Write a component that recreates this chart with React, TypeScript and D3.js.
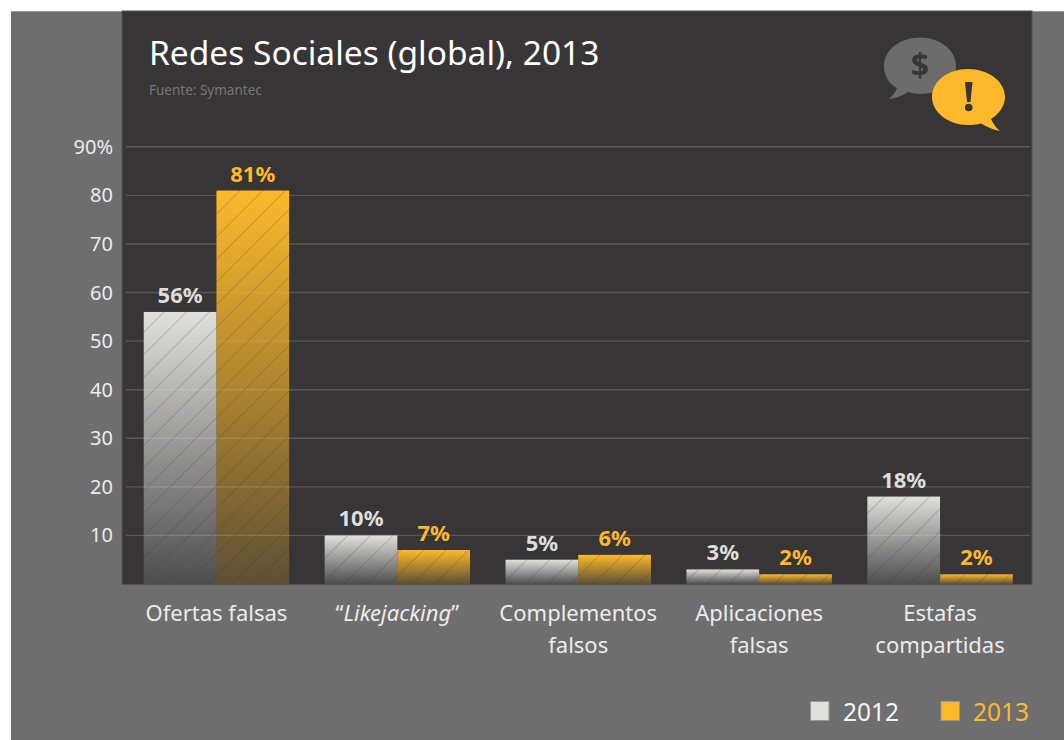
import React from 'react';
import * as d3 from 'd3';

const categories = ['Ofertas falsas', 'Likejacking', 'Complementos falsos', 'Aplicaciones falsas', 'Estafas compartidas'];
const categoryLines = [['Ofertas falsas'], ['“', 'Likejacking', '”'], ['Complementos', 'falsos'], ['Aplicaciones', 'falsas'], ['Estafas', 'compartidas']];
const series2012 = [56, 10, 5, 3, 18];
const series2013 = [81, 7, 6, 2, 2];
const yTicks = [10, 20, 30, 40, 50, 60, 70, 80, 90];
const seriesYears = ['2012', '2013'];

const FONT = '"Noto Sans", sans-serif';
const GREY = '#e0e0dd';
const AMBER = '#fdb92b';

const y = d3.scaleLinear().domain([0, 90]).range([584, 146.8]);
const x = d3.scaleBand<string>().domain(categories).range([126, 1030.5]).paddingInner(0.196).paddingOuter(0.098);
const inner = d3.scaleBand<string>().domain(seriesYears).range([0, x.bandwidth()]);

function Bars({ values, year, color, fill }: { values: number[]; year: string; color: string; fill: string }) {
  return (
    <g>
      {values.map((v, i) => {
        const bx = (x(categories[i]) as number) + (inner(year) as number);
        const top = y(v);
        const h = y(0) - top;
        return (
          <g key={i}>
            <rect x={bx} y={top} width={inner.bandwidth()} height={h} fill={`url(#${fill})`} />
            <rect x={bx} y={top} width={inner.bandwidth()} height={h} fill="url(#hatch)" />
            <text x={bx + inner.bandwidth() / 2} y={top - 9} textAnchor="middle" fontFamily={FONT} fontWeight={700} fontSize={22} fill={color === GREY ? '#dededb' : color}>
              {v}%
            </text>
          </g>
        );
      })}
    </g>
  );
}

export default function App() {
  return (
    <svg width={1064} height={740} style={{ position: 'absolute', left: 0, top: 0, display: 'block' }}>
      <defs>
        <linearGradient id="fadeGrey" x1="0" y1="0" x2="0" y2="1">
          <stop offset="0" stopColor={GREY} stopOpacity={1} />
          <stop offset="1" stopColor={GREY} stopOpacity={0.14} />
        </linearGradient>
        <linearGradient id="fadeAmber" x1="0" y1="0" x2="0" y2="1">
          <stop offset="0" stopColor={AMBER} stopOpacity={1} />
          <stop offset="1" stopColor={AMBER} stopOpacity={0.2} />
        </linearGradient>
        <pattern id="hatch" width={16} height={16} patternUnits="userSpaceOnUse" patternTransform="rotate(45)">
          <line x1={0} y1={0} x2={0} y2={16} stroke="#333" strokeOpacity={0.28} strokeWidth={1.6} />
        </pattern>
      </defs>

      <rect x={11} y={11} width={1053} height={729} fill="#6e6e6e" />
      <rect x={11} y={11} width={1053} height={1} fill="#9a9a9a" />
      <rect x={122} y={11} width={910} height={573.5} fill="#373536" stroke="#555" strokeWidth={1} />

      {yTicks.map(t => (
        <g key={t}>
          <line x1={126} x2={1030} y1={y(t)} y2={y(t)} stroke="#5a5859" strokeWidth={1.4} />
          <text x={113} y={y(t) + 7} textAnchor="end" fontFamily={FONT} fontSize={20} fill="#ececec">
            {t === 90 ? '90%' : t}
          </text>
        </g>
      ))}

      <text x={149} y={65} fontFamily={FONT} fontSize={33.5} fill="#ffffff">Redes Sociales (global), 2013</text>
      <text x={149} y={95} fontFamily={FONT} fontSize={13.5} fill="#777777">Fuente: Symantec</text>

      <Bars values={series2012} year="2012" color={GREY} fill="fadeGrey" />
      <Bars values={series2013} year="2013" color={AMBER} fill="fadeAmber" />

      {categoryLines.map((lines, i) => {
        const cx = (x(categories[i]) as number) + x.bandwidth() / 2;
        if (i === 1) {
          return (
            <text key={i} x={cx} y={621} textAnchor="middle" fontFamily={FONT} fontSize={22} fill="#ececec">
              {lines[0]}
              <tspan fontStyle="italic">{lines[1]}</tspan>
              {lines[2]}
            </text>
          );
        }
        return lines.map((l, j) => (
          <text key={j + l} x={cx} y={621 + j * 32} textAnchor="middle" fontFamily={FONT} fontSize={22} fill="#ececec">
            {l}
          </text>
        ));
      })}

      {/* Speech bubbles */}
      <path d="M920 37.500 C900 37.500 884 50 884 66 C884 76 889 84 897 88 C895 93 892 96 889 99 C897 98 904 95 908 92 C912 93 916 94 920 94 C940 94 956 82 956 66 C956 50 940 37.500 920 37.500 Z" fill="#6c6c6c" />
      <text x={920} y={77} textAnchor="middle" fontFamily={FONT} fontWeight={700} fontSize={32} fill="#373536">$</text>
      <path d="M968 69 C948 69 932 81 932 97 C932 112 948 125 968 125 C972 125 977 124.500 981 123.500 C987 127 994 130 1000 131 C996 128 993 123 991 119 C999 114 1005 106 1005 97 C1005 81 988 69 968 69 Z" fill={AMBER} />
      <path d="M965 82 L972.500 82 L970.500 102 L967 102 Z" fill="#373536" />
      <circle cx={968.700} cy={107.500} r={3.800} fill="#373536" />

      {/* Legend */}
      <rect x={810.500} y={701.500} width={18.500} height={19} fill={GREY} stroke="#989898" />
      <text x={843} y={720.500} fontFamily={FONT} fontSize={24.500} fill="#f4f4f4">{seriesYears[0]}</text>
      <rect x={941} y={701.500} width={18.500} height={19} fill={AMBER} stroke="#989898" />
      <text x={973} y={720.500} fontFamily={FONT} fontSize={24.500} fill={AMBER}>{seriesYears[1]}</text>
    </svg>
  );
}
